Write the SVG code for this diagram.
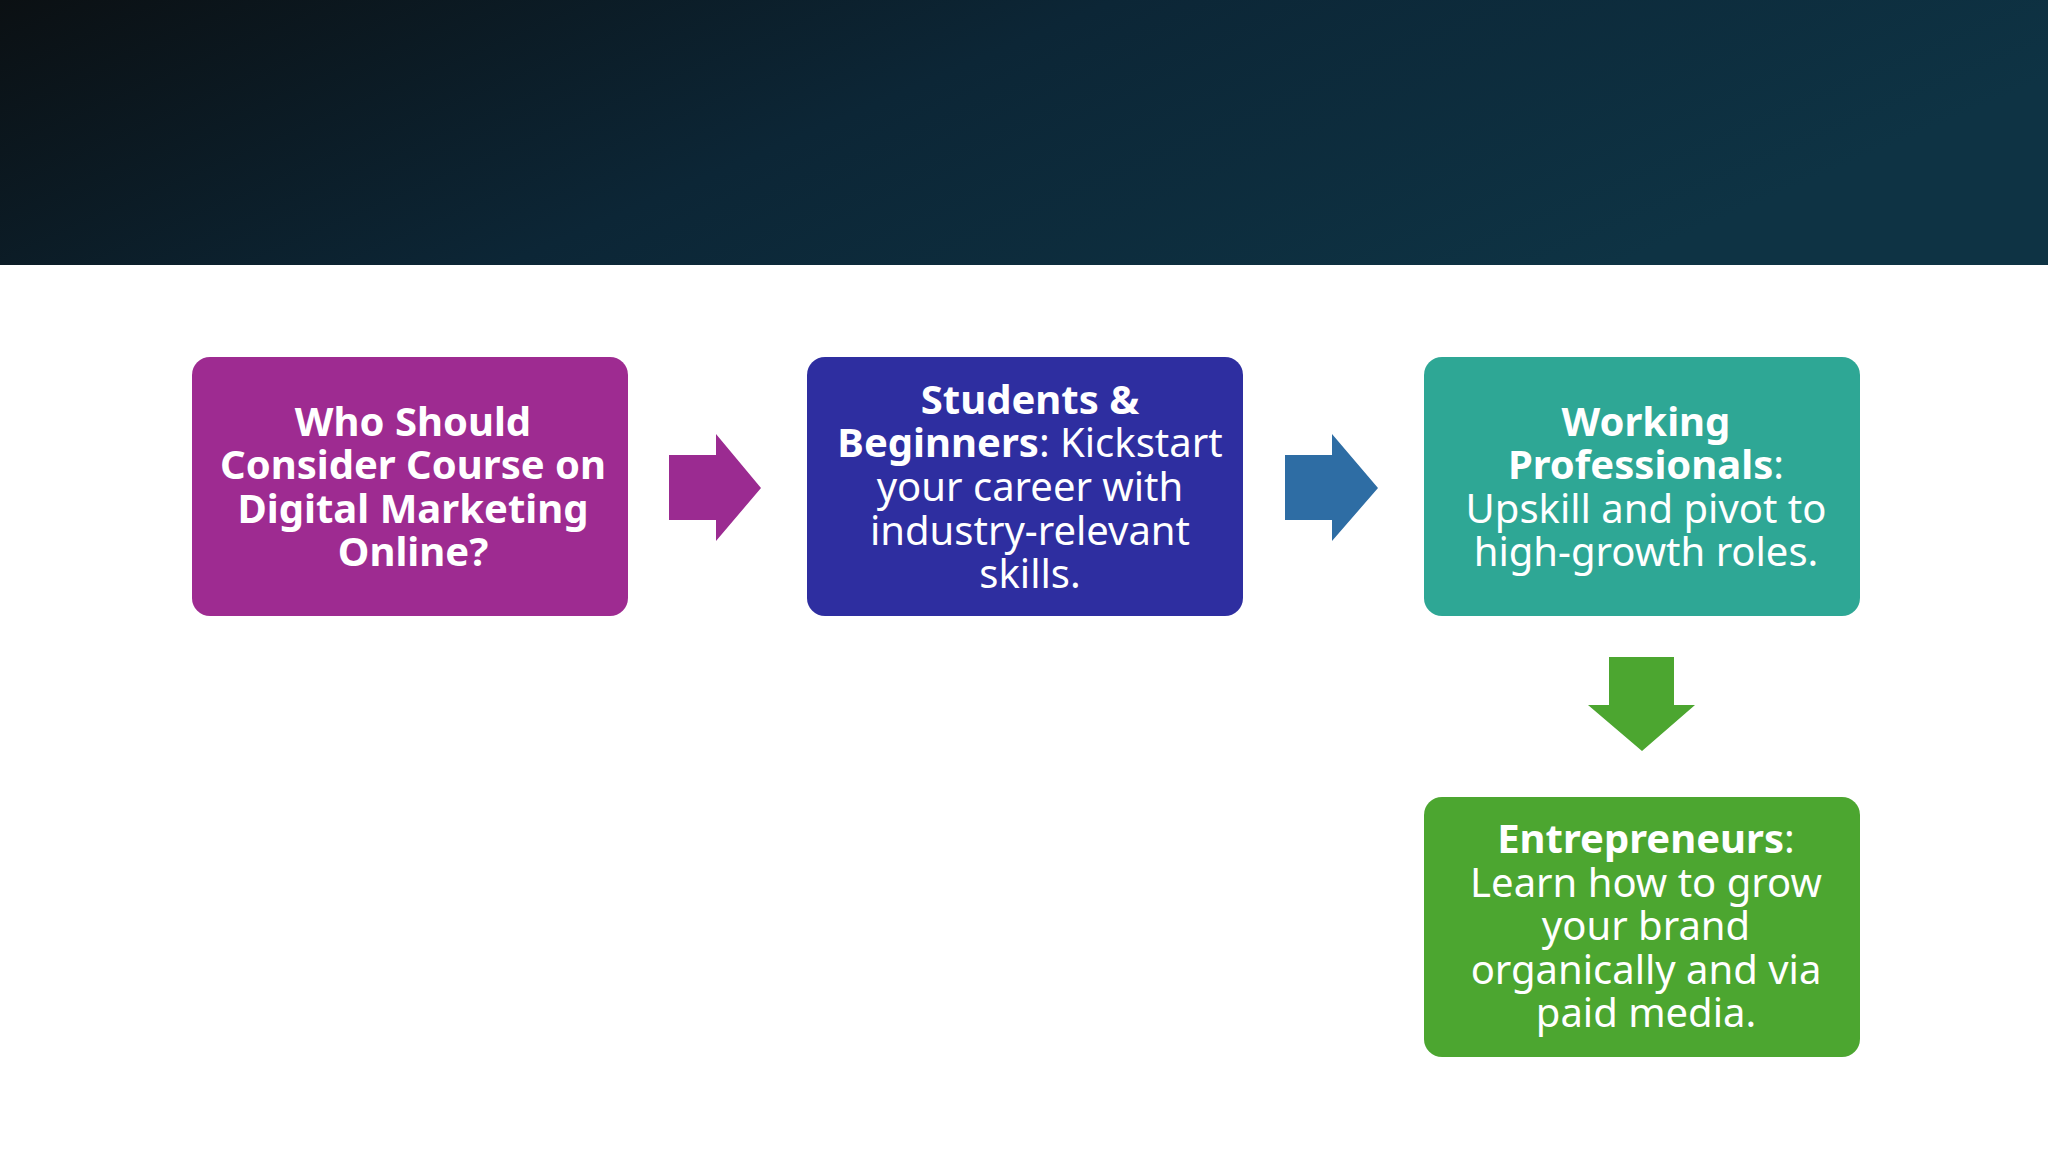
<svg xmlns="http://www.w3.org/2000/svg" width="2048" height="1152" viewBox="0 0 2048 1152">
<defs>
<linearGradient id="hdr" x1="0" y1="0" x2="1" y2="0.3">
<stop offset="0" stop-color="#0b1013"/>
<stop offset="0.5" stop-color="#0c2636"/>
<stop offset="1" stop-color="#0e3344"/>
</linearGradient>
<style>
text{font-family:"Noto Sans","Open Sans",sans-serif;font-size:40px;fill:#fff;text-anchor:middle}
.b{font-weight:bold}
</style>
</defs>
<rect width="2048" height="1152" fill="#fff"/>
<rect width="2048" height="265" fill="url(#hdr)"/>
<g id="connectors">
<polygon points="669,455 716,455 716,434 761,488 716,541 716,520 669,520" fill="#9b2b91"/>
<polygon points="1285,455 1332,455 1332,434 1378,488 1332,541 1332,520 1285,520" fill="#2e6da4"/>
<polygon points="1609,657 1674,657 1674,705 1695,705 1642,751 1588,705 1609,705" fill="#4ca630"/>
</g>
<g id="n1">
<rect x="192" y="357" width="436" height="259" rx="18" fill="#9e2b91"/>
<text class="b" x="413" y="436">Who Should</text>
<text class="b" x="413" y="479">Consider Course on</text>
<text class="b" x="413" y="523">Digital Marketing</text>
<text class="b" x="413" y="566">Online?</text>
</g>
<g id="n2">
<rect x="807" y="357" width="436" height="259" rx="18" fill="#2e2ea0"/>
<text x="1030" y="414"><tspan class="b">Students &amp;</tspan></text>
<text x="1030" y="457"><tspan class="b">Beginners</tspan>: Kickstart</text>
<text x="1030" y="501">your career with</text>
<text x="1030" y="545">industry-relevant</text>
<text x="1030" y="588">skills.</text>
</g>
<g id="n3">
<rect x="1424" y="357" width="436" height="259" rx="18" fill="#2ea795"/>
<text class="b" x="1646" y="436">Working</text>
<text x="1646" y="479"><tspan class="b">Professionals</tspan>:</text>
<text x="1646" y="523">Upskill and pivot to</text>
<text x="1646" y="566">high-growth roles.</text>
</g>
<g id="n4">
<rect x="1424" y="797" width="436" height="260" rx="18" fill="#4ca630"/>
<text x="1646" y="853"><tspan class="b">Entrepreneurs</tspan>:</text>
<text x="1646" y="897">Learn how to grow</text>
<text x="1646" y="940">your brand</text>
<text x="1646" y="984">organically and via</text>
<text x="1646" y="1027">paid media.</text>
</g>
</svg>
